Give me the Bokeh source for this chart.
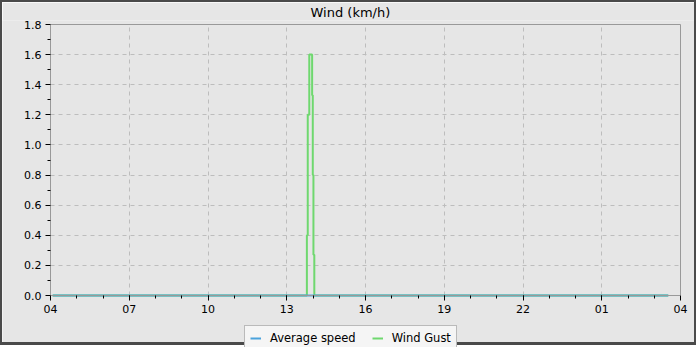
import pandas as pd
from bokeh.plotting import figure
from bokeh.models import (FixedTicker, PrintfTickFormatter, DatetimeTickFormatter,
                          Legend, Range1d, LinearAxis)
from bokeh.embed import file_html
from bokeh.resources import INLINE

# ---- data ----
range_start = "2024-05-01 04:00:00"
range_end = "2024-05-02 04:00:00"

avg_times = ["2024-05-01 04:05:00", "2024-05-02 03:32:00"]
avg_speed = [0.0, 0.0]

gust_times = ["2024-05-01 04:05:00", "2024-05-01 13:46:00", "2024-05-01 13:48:00",
              "2024-05-01 13:51:30", "2024-05-01 13:58:00", "2024-05-01 13:59:30",
              "2024-05-01 14:01:00", "2024-05-01 14:03:00", "2024-05-02 03:32:00"]
gust_speed = [0.0, 0.4, 1.2, 1.6, 1.33, 0.8, 0.27, 0.0, 0.0]

x_major_hours = ["2024-05-01 04:00:00", "2024-05-01 07:00:00", "2024-05-01 10:00:00",
                 "2024-05-01 13:00:00", "2024-05-01 16:00:00", "2024-05-01 19:00:00",
                 "2024-05-01 22:00:00", "2024-05-02 01:00:00", "2024-05-02 04:00:00"]
y_major = [0.0, 0.2, 0.4, 0.6, 0.8, 1.0, 1.2, 1.4, 1.6, 1.8]
y_minor = [0.1, 0.3, 0.5, 0.7, 0.9, 1.1, 1.3, 1.5, 1.7]
y_min, y_max = 0.0, 1.8

BG = "#e6e6e6"
BLUE = "#4ba3dc"
GREEN = "#6fd86f"
FRAME = "#999999"
GRID = "#bdbdbd"
FONT = "DejaVu Sans"

# layout in pixels: plot box 630x271, with room kept around it inside the frame
PLOT_W_PX, PLOT_H_PX = 630.0, 271.0
LEFT_PX, RIGHT_PX, BELOW_PX, ABOVE_PX = 48.0, 18.0, 52.0, 4.0


def ms(t):
    return pd.Timestamp(t).value // 10**6


x0, x1 = ms(range_start), ms(range_end)
major_ms = [ms(t) for t in x_major_hours]
minor_ms = [int(v) for v in pd.date_range(range_start, range_end, freq="1h").asi8 // 10**6]
ms_per_px = (x1 - x0) / PLOT_W_PX
y_per_px = (y_max - y_min) / PLOT_H_PX
x_lo, x_hi = x0 - LEFT_PX * ms_per_px, x1 + RIGHT_PX * ms_per_px
y_lo, y_hi = y_min - BELOW_PX * y_per_px, y_max + ABOVE_PX * y_per_px

p = figure(width=696, height=345, x_axis_type="datetime",
           x_range=Range1d(x_lo, x_hi), y_range=Range1d(y_lo, y_hi),
           output_backend="svg", toolbar_location=None,
           min_border_left=0, min_border_right=0, min_border_top=18,
           min_border_bottom=0,
           background_fill_color=BG, border_fill_color=BG,
           outline_line_color=None)
p.styles = {"border-style": "solid", "border-color": "#4a4a4a",
            "border-width": "2px 2px 3px 2px"}

p.title.text = "Wind (km/h)"
p.title.align = "left"
p.title.offset = 308
p.title.standoff = 1
p.title.text_font = FONT
p.title.text_font_size = "13px"
p.title.text_font_style = "normal"
p.title.text_color = "black"

r_gust = p.step(pd.to_datetime(gust_times), gust_speed, mode="after",
                line_color=GREEN, line_width=2)
r_avg = p.line(pd.to_datetime(avg_times), avg_speed, line_color=BLUE,
               line_width=2)

p.xaxis.ticker = FixedTicker(ticks=major_ms, minor_ticks=minor_ms)
p.xaxis.formatter = DatetimeTickFormatter(hours="%H", days="%H", hourmin="%H",
                                          minutes="%H", months="%H", years="%H")
p.xaxis.fixed_location = y_min
p.xaxis.bounds = (x0, x1)
p.yaxis.ticker = FixedTicker(ticks=y_major, minor_ticks=y_minor)
p.yaxis.formatter = PrintfTickFormatter(format="%.1f")
p.yaxis.fixed_location = x0
p.yaxis.bounds = (y_min, y_max)

for ax in (p.xaxis, p.yaxis):
    ax.axis_line_color = FRAME
    ax.major_tick_line_color = "black"
    ax.minor_tick_line_color = "black"
    ax.major_tick_out = 5
    ax.major_tick_in = 0
    ax.minor_tick_out = 3
    ax.minor_tick_in = 0
    ax.major_label_text_font = FONT
    ax.major_label_text_font_size = "11px"
    ax.major_label_text_color = "black"
p.yaxis.major_label_standoff = 4
p.xaxis.major_label_standoff = 4

# frame lines on top and right of the plot box
right_ax = LinearAxis(ticker=FixedTicker(ticks=[]), bounds=(y_min, y_max),
                      fixed_location=x1, axis_line_color=FRAME,
                      major_tick_line_color=None, minor_tick_line_color=None,
                      major_label_text_font_size="0px", major_label_standoff=0)
p.add_layout(right_ax, "right")
top_ax = LinearAxis(ticker=FixedTicker(ticks=[]), bounds=(x0, x1),
                    fixed_location=y_max, axis_line_color=FRAME,
                    major_tick_line_color=None, minor_tick_line_color=None,
                    major_label_text_font_size="0px", major_label_standoff=0)
p.add_layout(top_ax, "above")

p.grid.grid_line_color = GRID
p.grid.grid_line_dash = "4 4"
p.grid.grid_line_width = 1
try:
    p.xgrid.cross_bounds = (y_min, y_max)
    p.ygrid.cross_bounds = (x0, x1)
except AttributeError:
    p.grid.grid_line_color = None
    p.segment(x0=major_ms, y0=[y_min] * len(major_ms), x1=major_ms,
              y1=[y_max] * len(major_ms), line_color=GRID,
              line_dash="4 4", line_width=1, level="underlay")
    p.segment(x0=[x0] * len(y_major), y0=y_major, x1=[x1] * len(y_major),
              y1=y_major, line_color=GRID, line_dash="4 4", line_width=1,
              level="underlay")

legend = Legend(items=[("Average speed", [r_avg]), ("Wind Gust", [r_gust])],
                orientation="horizontal", location=(242, -4),
                background_fill_color="#f5f5f5", background_fill_alpha=1,
                border_line_color="#808080", border_line_width=1,
                label_text_font=FONT, label_text_font_size="11.5px",
                label_text_color="black", glyph_width=11, glyph_height=12,
                label_standoff=9, spacing=16, padding=5, margin=0,
                label_height=12)
p.add_layout(legend, "center")

open("out.html", "w").write(file_html(p, INLINE))
